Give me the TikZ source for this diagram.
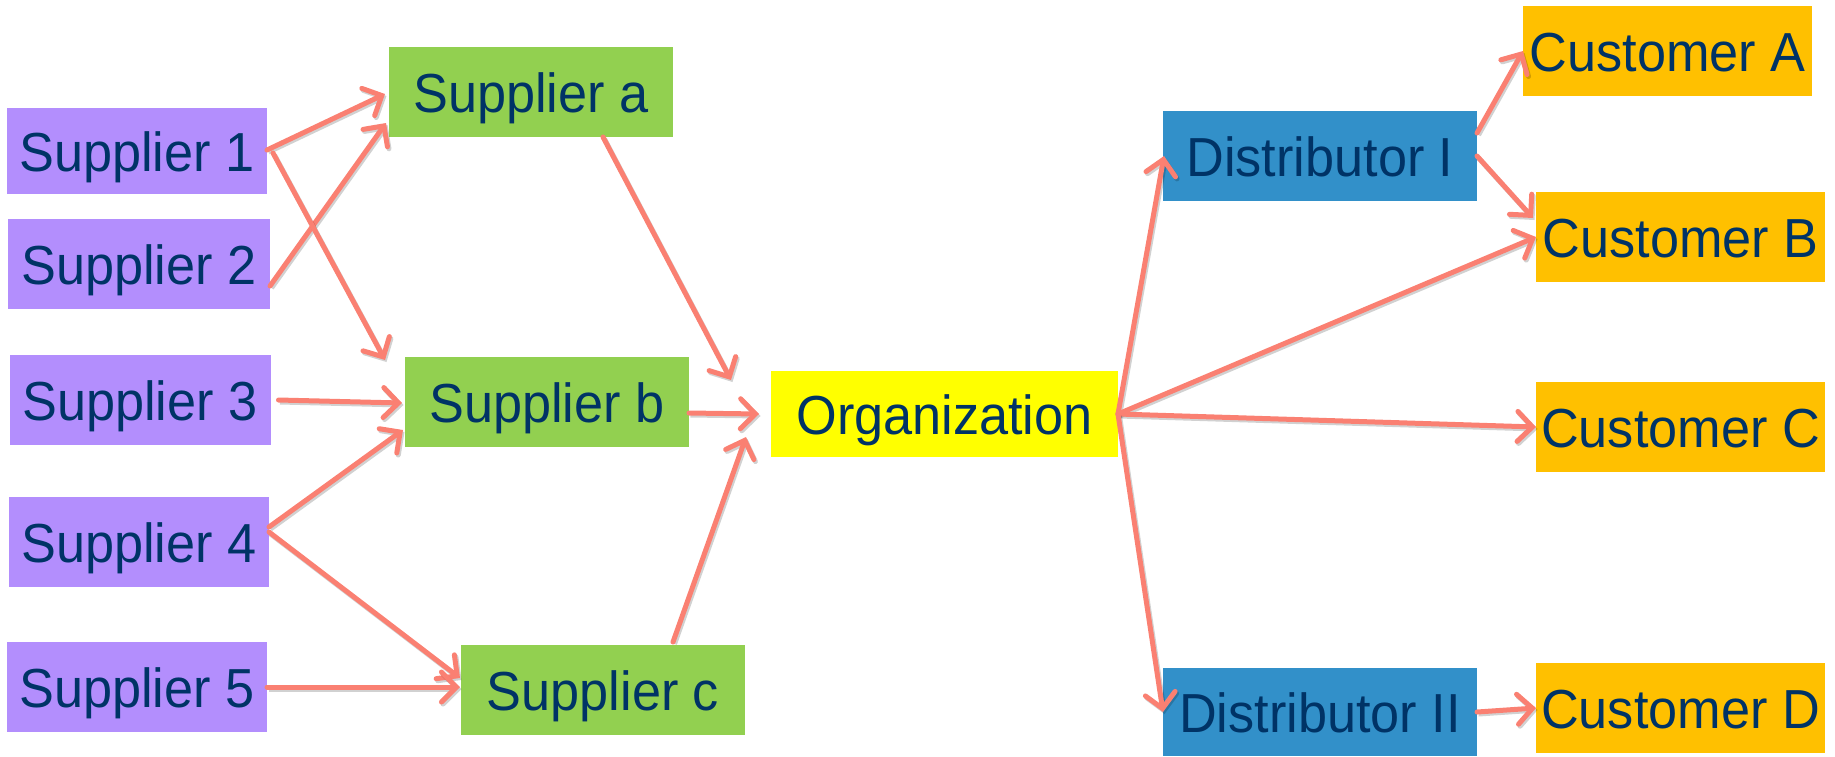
\documentclass[tikz,border=0pt]{standalone}
\usepackage{fontspec}
\setmainfont[FakeStretch=0.95]{Liberation Sans}
\usetikzlibrary{arrows.meta}

\definecolor{txtblue}{HTML}{003366}
\definecolor{supl}{HTML}{B38EFD}
\definecolor{tier}{HTML}{92D050}
\definecolor{orgy}{HTML}{FFFF00}
\definecolor{distb}{HTML}{3290C9}
\definecolor{custo}{HTML}{FFC000}
\definecolor{flow}{HTML}{FA8072}

\tikzset{
  box/.style={inner sep=0pt, outer sep=0pt, text=txtblue,
    font=\fontsize{55}{62}\selectfont, text height=40pt, text depth=0pt},
  raw/.style={box, fill=supl},
  mid/.style={box, fill=tier},
  core/.style={box, fill=orgy},
  dist/.style={box, fill=distb},
  cust/.style={box, fill=custo},
  flowarrow/.style={draw=flow, line width=5pt, line cap=round,
    -{Straight Barb[length=15pt,width=30pt,line cap=round]},
    preaction={draw=black, draw opacity=0.18, line width=5pt,
      transform canvas={shift={(1.5pt,-2pt)}}}}
}

\begin{document}
\begin{tikzpicture}[x=1pt,y=-1pt]
\useasboundingbox (0,0) rectangle (1835,756);

% raw material suppliers
\node[raw, minimum width=260pt, minimum height=86pt] (s1) at (137,151) {Supplier 1};
\node[raw, minimum width=262pt, minimum height=90pt] (s2) at (139,264) {Supplier 2};
\node[raw, minimum width=261pt, minimum height=90pt] (s3) at (140,400) {Supplier 3};
\node[raw, minimum width=260pt, minimum height=90pt] (s4) at (139,542) {Supplier 4};
\node[raw, minimum width=260pt, minimum height=90pt] (s5) at (137,687) {Supplier 5};

% first-tier suppliers
\node[mid, minimum width=284pt, minimum height=90pt] (sa) at (531,92) {Supplier a};
\node[mid, minimum width=284pt, minimum height=90pt] (sb) at (547,402) {Supplier b};
\node[mid, minimum width=284pt, minimum height=90pt] (sc) at (603,690) {Supplier c};

% focal firm
\node[core, minimum width=347pt, minimum height=86pt] (org) at (944.5,414) {Organization};

% distribution
\node[dist, minimum width=314pt, minimum height=90pt] (di) at (1320,156) {Distributor I};
\node[dist, minimum width=314pt, minimum height=88pt] (dii) at (1320,712) {Distributor II};

% customers
\node[cust, minimum width=289pt, minimum height=90pt] (ca) at (1667.5,51) {Customer A};
\node[cust, minimum width=289pt, minimum height=90pt] (cb) at (1680.5,237) {Customer B};
\node[cust, minimum width=289pt, minimum height=90pt] (cc) at (1680.5,427) {Customer C};
\node[cust, minimum width=289pt, minimum height=90pt] (cd) at (1680.5,708) {Customer D};

% supply flows
\draw[flowarrow] ([yshift=1pt]s1.east) -- ([xshift=-4pt,yshift=-2pt]sa.west);
\draw[flowarrow] ([yshift=-22pt]s2.east) -- ([xshift=-3pt,yshift=-31pt]sa.west);
\draw[flowarrow] ([xshift=6pt,yshift=-2pt]s1.east) -- ([xshift=-20pt,yshift=-3pt]sb.north west);
\draw[flowarrow] ([xshift=8pt]s3.east) -- ([xshift=-3pt,yshift=-1pt]sb.west);
\draw[flowarrow] ([yshift=15pt]s4.east) -- ([xshift=-2pt,yshift=-28pt]sb.west);
\draw[flowarrow] ([yshift=10pt]s4.east) -- ([xshift=-1pt,yshift=12pt]sc.west);
\draw[flowarrow] (s5.east) -- ([xshift=-1pt,yshift=3pt]sc.west);
\draw[flowarrow] ([xshift=72pt]sa.south) -- ([xshift=-40pt,yshift=34pt]org.west);
\draw[flowarrow] ([yshift=-11pt]sb.east) -- ([xshift=-12pt]org.west);
\draw[flowarrow] ([xshift=70pt,yshift=3pt]sc.north) -- ([xshift=-25pt,yshift=-23pt]org.west);

% distribution flows
\draw[flowarrow] (org.east) -- ([xshift=1pt]di.west);
\draw[flowarrow] (org.east) -- (cb.west);
\draw[flowarrow] (org.east) -- (cc.west);
\draw[flowarrow] (org.east) -- (dii.west);
\draw[flowarrow] ([yshift=23pt]di.east) -- (ca.west);
\draw[flowarrow] (di.east) -- ([xshift=-3pt,yshift=19pt]cb.west);
\draw[flowarrow] (dii.east) -- (cd.west);
\end{tikzpicture}
\end{document}
